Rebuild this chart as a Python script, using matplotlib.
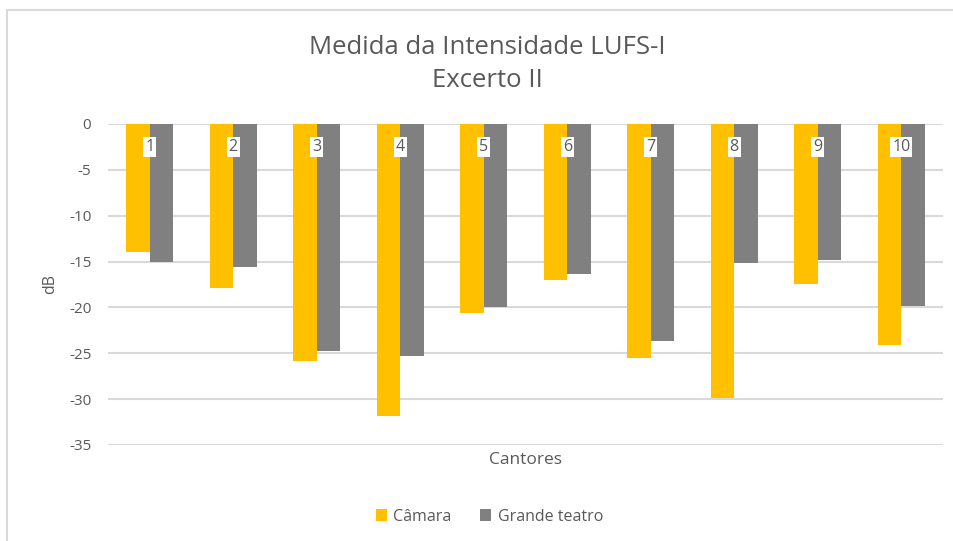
import matplotlib.pyplot as plt
import numpy as np
from matplotlib.patches import Rectangle

plt.rcParams['font.family'] = ['Open Sans', 'DejaVu Sans']
plt.rcParams['axes.unicode_minus'] = False

cantores = ['1', '2', '3', '4', '5', '6', '7', '8', '9', '10']
camara = [-14.0, -17.9, -25.8, -31.8, -20.6, -17.0, -25.5, -29.9, -17.4, -24.1]
grande_teatro = [-15.0, -15.6, -24.7, -25.3, -20.0, -16.4, -23.7, -15.2, -14.8, -19.9]

txt = '#595959'
fig = plt.figure(figsize=(9.54, 5.41), dpi=100)
ax = fig.add_axes([0.1132, 0.1775, 0.8753, 0.5933])

x = np.arange(len(cantores))
w = 0.28
ax.bar(x - w / 2, camara, w, color='#ffc000', label='Câmara', zorder=3)
ax.bar(x + w / 2, grande_teatro, w, color='#808080', label='Grande teatro', zorder=3)

ax.set_xlim(-0.5, len(cantores) - 0.5)
ax.set_ylim(-35, 0)
ax.set_yticks(np.arange(-35, 1, 5))
ax.yaxis.grid(True, color='#d9d9d9', linewidth=1.5, zorder=0)
ax.set_xticks([])
for s in ax.spines.values():
    s.set_visible(False)
ax.tick_params(axis='y', length=0, labelsize=11, labelcolor=txt, pad=12)

for i, c in enumerate(cantores):
    ax.text(i, -2.55, c, ha='center', va='center', fontsize=11.5, color=txt, zorder=4,
            bbox=dict(facecolor='white', edgecolor='none', pad=1.5))

ax.set_ylabel('dB', fontsize=11.5, color=txt, labelpad=8)
ax.set_xlabel('Cantores', fontsize=12.5, color=txt, labelpad=5)

fig.text(0.511, 0.913, 'Medida da Intensidade LUFS-I', ha='center', va='center', fontsize=18.5, color=txt)
fig.text(0.511, 0.852, 'Excerto II', ha='center', va='center', fontsize=18.5, color=txt)

fig.legend(loc='center', bbox_to_anchor=(0.513, 0.045), ncol=2, frameon=False,
           fontsize=11.5, labelcolor=txt, handlelength=0.7, handleheight=0.7,
           handletextpad=0.4, columnspacing=1.8)

fig.patches.append(Rectangle((7.5 / 954, -0.05), 1.1, 1.05 - 10.5 / 541, transform=fig.transFigure,
                             fill=False, edgecolor='#d9d9d9', linewidth=1.5))

fig.savefig('out.png', dpi=100)
